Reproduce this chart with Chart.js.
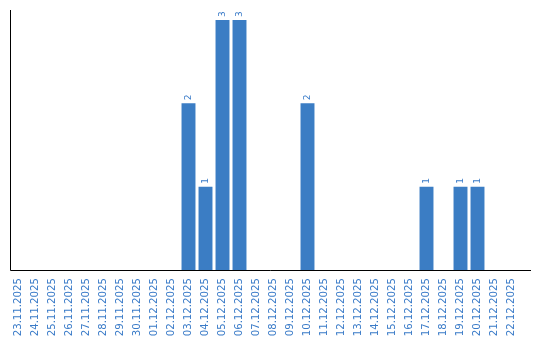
<!DOCTYPE html>
<html>
<head>
<meta charset="utf-8">
<script src="https://cdn.jsdelivr.net/npm/chart.js@4/dist/chart.umd.min.js"></script>
<style>
html,body{margin:0;padding:0;background:#fff;}
#wrap{width:540px;height:340px;position:relative;}
</style>
</head>
<body>
<div id="wrap"><canvas id="c" width="540" height="340"></canvas></div>
<script>
const categories = ["23.11.2025","24.11.2025","25.11.2025","26.11.2025","27.11.2025","28.11.2025","29.11.2025","30.11.2025","01.12.2025","02.12.2025","03.12.2025","04.12.2025","05.12.2025","06.12.2025","07.12.2025","08.12.2025","09.12.2025","10.12.2025","11.12.2025","12.12.2025","13.12.2025","14.12.2025","15.12.2025","16.12.2025","17.12.2025","18.12.2025","19.12.2025","20.12.2025","21.12.2025","22.12.2025"];
const counts = [0,0,0,0,0,0,0,0,0,0,2,1,3,3,0,0,0,2,0,0,0,0,0,0,1,0,1,1,0,0];

const BAR = '#3b7dc4';
const TXT = '#3a7bc8';
const FONT = 'DejaVu Sans';

const valueLabels = {
  id: 'valueLabels',
  afterDatasetsDraw(chart) {
    const ctx = chart.ctx;
    const meta = chart.getDatasetMeta(0);
    ctx.save();
    ctx.fillStyle = TXT;
    ctx.font = '9px "' + FONT + '"';
    ctx.textAlign = 'left';
    ctx.textBaseline = 'middle';
    meta.data.forEach((el, i) => {
      const v = counts[i];
      if (!v) return;
      ctx.save();
      ctx.translate(el.x, el.y - 3);
      ctx.rotate(-Math.PI / 2);
      ctx.fillText(String(v), 0, 0);
      ctx.restore();
    });
    ctx.restore();
  }
};

const axisLines = {
  id: 'axisLines',
  afterDraw(chart) {
    const ctx = chart.ctx;
    const a = chart.chartArea;
    ctx.save();
    ctx.strokeStyle = '#000';
    ctx.lineWidth = 1;
    ctx.beginPath();
    ctx.moveTo(a.left + 0.5, a.top);
    ctx.lineTo(a.left + 0.5, a.bottom + 0.5);
    ctx.lineTo(a.right + 11, a.bottom + 0.5);
    ctx.stroke();
    ctx.restore();
  }
};

new Chart(document.getElementById('c'), {
  type: 'bar',
  data: {
    labels: categories,
    datasets: [{
      data: counts,
      backgroundColor: BAR,
      borderWidth: 0,
      barPercentage: 0.82,
      categoryPercentage: 1.0
    }]
  },
  options: {
    responsive: false,
    animation: false,
    devicePixelRatio: 1,
    layout: { padding: { left: 10, right: 20, top: 10, bottom: 0 } },
    plugins: { legend: { display: false }, tooltip: { enabled: false } },
    scales: {
      x: {
        grid: { display: false },
        border: { display: false },
        afterFit(scale) { scale.height = 70; },
        ticks: {
          autoSkip: false,
          minRotation: 90,
          maxRotation: 90,
          padding: 0,
          color: TXT,
          font: { family: FONT, size: 10.2 }
        }
      },
      y: {
        display: false,
        min: 0,
        max: 3.12
      }
    }
  },
  plugins: [valueLabels, axisLines]
});
</script>
</body>
</html>
